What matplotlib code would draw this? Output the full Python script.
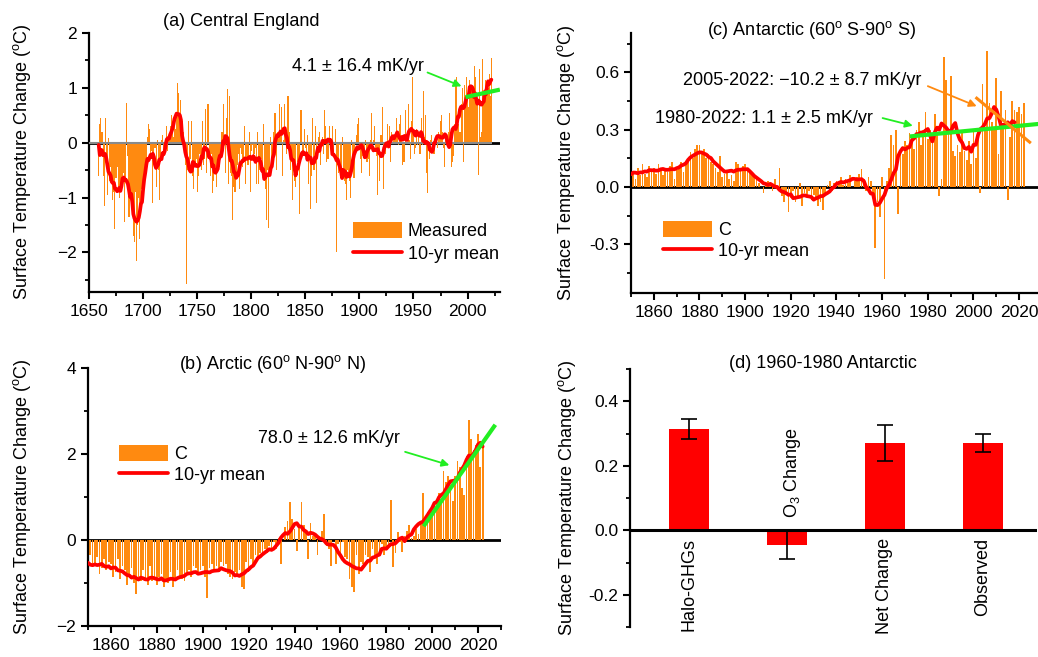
import numpy as np
import pandas as pd
import matplotlib
matplotlib.use('Agg')
import matplotlib.pyplot as plt
from matplotlib.ticker import MultipleLocator

plt.rcParams['font.family'] = ['Liberation Sans', 'DejaVu Sans']
plt.rcParams['mathtext.fontset'] = 'custom'
plt.rcParams['mathtext.rm'] = 'Liberation Sans'
plt.rcParams['mathtext.it'] = 'Liberation Sans:italic'
plt.rcParams['font.size'] = 13

# ---------------- data ----------------
# (a) Central England, annual anomaly, 1659-2022
cet_start = 1659
cet = [
    -0.6, 0.35, 0.45, 0.2, -0.6, -1.15, 0.45, -0.2, -0.95, 0.08, -0.7,
    -0.45, -0.7, -1.05, -0.9, -1.58, -0.65, -0.45, -0.9, -1.0, -0.75,
    -0.85, -0.6, -0.55, -1.45, -0.7, 0.72, -0.25, -1.35, -0.95, -1.1,
    -1.3, -1.7, -1.8, -0.9, -2.15, -1.5, -1.0, -1.75, -1.2, -0.85,
    -0.8, -0.6, -0.4, -0.55, 0.1, 0.35, 0.25, -0.3, -0.15, -1.1,
    -0.3, -0.1, -0.8, 0.05, -0.5, -1.05, -0.35, 0.05, 0.15, -0.25,
    -0.2, -0.1, 0.3, -0.15, 0.05, 0.3, 0.5, 0.2, 0.1, 0.45,
    0.25, 0.5, 1.08, 0.9, 0.55, 0.78, 0.4, 0.2, -0.1, -0.4,
    -2.57, -0.5, 0.4, -0.45, -0.3, 0.4, -0.6, -0.85, -0.4, -0.3,
    -0.9, -0.6, -0.2, -0.3, -0.5, 0.4, -0.4, -0.3, 0.62, -0.55,
    0.7, -0.3, -0.6, -0.2, -0.92, -0.7, -0.4, -0.55, -0.8, -0.35,
    -0.5, -0.45, -0.3, 0.2, 0.7, 0.1, -0.55, 0.45, 0.98, -0.75,
    0.85, -0.55, -0.6, -1.4, -0.8, -0.9, -0.6, -0.4, -0.2, -0.85,
    -0.1, -0.2, -0.45, -0.3, 0.3, -0.75, -0.3, -0.4, 0.2, -0.9,
    -0.15, -0.05, -0.3, -0.2, -0.1, -0.75, 0.2, -0.75, -0.5, -0.3,
    -0.4, 0.35, -0.7, -0.85, -1.4, -0.5, -1.55, -0.5, 0.1, -0.4,
    -0.3, 0.2, 0.55, -0.5, 0.2, 0.1, 0.7, 0.2, 0.65, -0.6,
    0.05, 0.7, 0.1, -0.2, 0.85, 0.2, -0.5, -0.35, -1.05, -0.5,
    -0.7, -0.8, 0.0, -0.35, -0.4, -1.3, 0.6, -0.2, -0.15, 0.25,
    -0.1, -0.2, 0.15, -0.75, -0.3, -1.2, -0.6, 0.45, -0.5, 0.3,
    -1.1, -0.05, 0.1, 0.2, -0.4, 0.05, 0.1, -0.2, 0.6, 0.3,
    -0.35, -0.3, 0.3, -0.05, -0.1, 0.3, -0.15, 0.0, 0.25, -1.99,
    -0.4, -0.55, -0.05, -0.55, 0.1, -0.5, -0.7, -0.75, -1.05, -0.5,
    -0.6, -0.7, -1.0, 0.05, -0.25, -0.65, 0.0, 0.15, 0.35, 0.45,
    -0.05, -0.3, -0.55, -0.25, -0.1, -0.2, 0.05, -0.35, -0.3, -0.6,
    0.05, 0.55, -0.1, 0.05, 0.3, -0.15, -0.25, -0.95, -0.15, -0.7,
    0.15, 0.65, -0.85, 0.0, -0.2, -0.1, 0.35, -0.05, 0.3, -0.35,
    0.2, 0.0, 0.05, 0.15, 0.45, 0.1, -0.05, 0.35, 0.5, 0.15,
    -0.4, -0.35, -0.35, 0.6, 0.0, 0.7, 0.05, -0.3, 0.4, 1.2,
    0.2, -0.2, -0.1, 0.25, -0.05, 0.1, -0.2, 0.45, -0.05, 0.95,
    0.1, 0.5, -0.55, -0.92, -0.05, -0.3, 0.05, 0.15, -0.05, -0.2,
    0.05, 0.15, -0.1, 0.2, 0.1, 0.4, 0.5, 0.2, -0.1, -0.45,
    0.05, 0.1, 0.2, 0.55, -0.1, -0.45, -0.35, -0.25, 0.35, 1.15,
    1.2, 0.4, 0.35, 0.2, 0.7, 1.0, -0.35, 1.05, 0.85, 1.2,
    0.9, 0.65, 1.15, 1.05, 0.95, 0.95, 1.4, 1.2, 0.75, 0.8,
    -0.59, 1.35, 0.1, 0.2, 1.53, 0.75, 0.9, 1.15, 1.1, 1.0,
    1.25, 0.85, 1.55,
]

# (b) Arctic 60N-90N, 1850-2022
arc_start = 1850
arctic = [
    -0.75, -0.35, -0.55, -0.6, -0.4, -0.8, -0.65, -0.45, -0.7, -0.5,
    -0.55, -0.85, -0.75, -0.45, -0.9, -0.6, -0.7, -1.05, -0.8, -0.65,
    -1.0, -1.25, -0.85, -0.95, -0.7, -0.9, -1.05, -0.6, -0.95, -0.9,
    -1.05, -0.85, -0.8, -1.1, -0.9, -1.0, -0.75, -1.1, -0.95, -0.7,
    -0.85, -0.9, -0.95, -0.75, -0.7, -0.85, -0.6, -0.65, -0.8, -0.7,
    -0.6, -0.85, -1.35, -0.65, -0.55, -0.7, -0.6, -0.75, -0.5, -0.6,
    -0.55, -0.8, -0.85, -0.9, -0.75, -0.85, -0.7, -1.1, -1.15, -0.5,
    -0.75, -0.45, -0.6, -0.35, -0.4, -0.3, -0.35, -0.2, -0.3, -0.15,
    -0.25, -0.05, -0.2, 0.05, -0.55, 0.0, 0.3, 0.45, 0.88, 0.5,
    0.25, -0.25, 0.35, 0.88, 0.35, 0.2, -0.45, 0.4, 0.1, 0.15,
    -0.35, 0.05, 0.2, 0.6, -0.15, -0.2, -0.6, 0.0, -0.55, -0.1,
    -0.3, -0.05, -0.4, -0.45, -0.9, -1.1, -1.2, -0.35, -0.8, -0.5,
    -0.55, -0.35, -0.4, -0.75, -0.2, -0.4, -0.55, -0.3, -0.1, -0.35,
    -0.2, -0.15, 0.93, -0.62, -0.3, 0.18, -0.05, -0.29, 0.1, 0.2,
    0.35, 0.05, 0.1, 0.25, 0.15, 0.45, 1.1, 0.4, 0.65, 0.55,
    0.55, 0.8, 0.9, 1.1, 0.95, 1.61, 1.34, 1.5, 1.2, 0.91,
    1.5, 1.84, 1.7, 1.2, 1.05, 1.95, 2.79, 2.35, 2.1, 2.2,
    2.47, 1.69, 2.23,
]

# (c) Antarctic 60S-90S, 1850-2022
ant_start = 1850
antarctic = [
    0.05, 0.08, 0.04, 0.1, 0.06, 0.12, 0.07, 0.05, 0.11, 0.08,
    0.1, 0.07, 0.12, 0.09, 0.06, 0.1, 0.08, 0.11, 0.13, 0.04,
    0.09, 0.1, 0.13, 0.08, 0.12, 0.14, 0.18, 0.15, 0.2, 0.22,
    0.22, 0.18, 0.2, 0.15, 0.17, 0.13, 0.12, 0.1, 0.08, 0.16,
    0.05, 0.07, 0.09, 0.04, 0.06, 0.03, 0.13, 0.12, 0.1, 0.11,
    0.12, 0.1, 0.09, 0.07, 0.05, 0.04, 0.02, 0.0, -0.03, 0.02,
    0.03, 0.01, -0.02, 0.04, -0.01, 0.1, -0.05, -0.08, -0.04, -0.13,
    -0.06, -0.02, -0.08, -0.05, 0.02, -0.1, -0.03, -0.05, -0.02, -0.07,
    -0.04, -0.06, -0.1, -0.08, -0.12, -0.03, 0.01, 0.03, -0.02, 0.02,
    0.03, 0.02, 0.05, 0.01, 0.04, 0.02, 0.06, 0.0, 0.03, 0.05,
    0.07, 0.096, 0.04, -0.02, 0.05, 0.03, -0.05, -0.32, -0.08, -0.16,
    0.05, -0.48, 0.03, 0.1, 0.27, 0.22, 0.3, -0.14, 0.2, 0.17,
    0.24, 0.22, 0.28, 0.27, 0.2, 0.3, 0.34, 0.22, 0.3, 0.39,
    0.25, 0.3, 0.27, 0.38, 0.28, -0.05, 0.04, 0.68, 0.56, 0.28,
    0.58, 0.19, 0.16, 0.22, 0.18, 0.3, 0.19, 0.14, 0.24, 0.12,
    0.29, 0.15, 0.26, -0.03, 0.54, 0.3, 0.71, 0.44, 0.34, 0.3,
    0.57, 0.17, 0.5, 0.31, 0.4, -0.07, 0.26, 0.45, 0.4, 0.39,
    0.42, 0.38, 0.44,
]

# trend lines
trend_a_years, trend_a_vals = [2000, 2028], [0.84, 0.96]
trend_b_years, trend_b_vals = [1996.8, 2027], [0.36, 2.64]
trend_c1_years, trend_c1_vals = [1973, 2030], [0.265, 0.331]
trend_c2_years, trend_c2_vals = [2001.4, 2024.6], [0.464, 0.234]

# (d) 1960-1980 Antarctic
d_labels = ['Halo-GHGs', 'O$_3$ Change', 'Net Change', 'Observed']
d_values = [0.315, -0.045, 0.27, 0.27]
d_errors = [0.031, 0.045, 0.055, 0.028]

ORANGE = '#FF8A10'
RED = '#FF0000'
GREEN = '#22EE22'
YLABEL = 'Surface Temperature Change ($^{\\mathrm{o}}$C)'

W, H = 1038, 657
fig = plt.figure(figsize=(W / 100, H / 100), dpi=100)


def rect(l, t, r, b):
    return [l / W, 1 - b / H, (r - l) / W, (b - t) / H]


def ftext(x, y, s, **kw):
    fig.text(x / W, 1 - y / H, s, **kw)


def style(ax):
    for s in ['top', 'right']:
        ax.spines[s].set_visible(False)
    for s in ['left', 'bottom']:
        ax.spines[s].set_linewidth(1.6)
    ax.tick_params(which='major', direction='out', length=5, width=1.5,
                   labelsize=12.5)
    ax.tick_params(which='minor', direction='out', length=3, width=1.3)


def series_plot(ax, start, vals, width, mean_end=None):
    years = np.arange(start, start + len(vals))
    bars = ax.bar(years, vals, width=width, color=ORANGE, linewidth=0,
                  zorder=2)
    mean10 = pd.Series(vals, index=years).rolling(
        10, center=True, min_periods=5).mean()
    if mean_end is not None:
        mean10 = mean10[mean10.index <= mean_end]
    line, = ax.plot(mean10.index, mean10.values, color=RED, lw=2.7,
                    zorder=4, solid_capstyle='round')
    return years, bars, line


arrow_kw = dict(arrowstyle='-|>', mutation_scale=11, lw=1.3,
                shrinkA=0, shrinkB=0)

# ---------------- (a) Central England ----------------
ax = fig.add_axes(rect(89, 33, 500, 292))
style(ax)
ax.axhline(0, color='black', lw=2, zorder=1)
years, bars, line = series_plot(ax, cet_start, cet, 1.0)
ax.hlines(0, 1650, years[-1] + 0.5, color='#8a8a8a', lw=1.5, zorder=3)
ax.plot(trend_a_years, trend_a_vals, color=GREEN, lw=3, zorder=5)
ax.set_xlim(1650, 2030)
ax.set_ylim(-2.72, 2.0)
ax.xaxis.set_major_locator(MultipleLocator(50))
ax.xaxis.set_minor_locator(MultipleLocator(25))
ax.yaxis.set_major_locator(MultipleLocator(1))
ax.yaxis.set_minor_locator(MultipleLocator(0.5))
ax.text(1837.3, 1.39, '4.1 ± 16.4 mK/yr', ha='left', va='center')
ax.annotate('', xy=(1994.4, 1.03), xytext=(1963, 1.28),
            arrowprops=dict(color=GREEN, **arrow_kw))
ax.legend([bars, line], ['Measured', '10-yr mean'], loc='upper left',
          bbox_to_anchor=(0.642, 0.27), frameon=False, handlelength=2.7,
          handleheight=0.95, borderaxespad=0, borderpad=0,
          labelspacing=0.3, handletextpad=0.35, fontsize=13)
ftext(241, 21, '(a) Central England', ha='center', va='center')
ftext(22, 162, YLABEL, rotation=90, ha='center', va='center')

# ---------------- (b) Arctic ----------------
ax = fig.add_axes(rect(88, 368, 501, 626))
style(ax)
ax.axhline(0, color='black', lw=2, zorder=1)
years, bars, line = series_plot(ax, arc_start, arctic, 0.75)
ax.plot(trend_b_years, trend_b_vals, color=GREEN, lw=3, zorder=5)
ax.set_xlim(1850, 2030)
ax.set_ylim(-2, 4)
ax.xaxis.set_major_locator(MultipleLocator(20))
ax.xaxis.set_minor_locator(MultipleLocator(10))
ax.yaxis.set_major_locator(MultipleLocator(2))
ax.yaxis.set_minor_locator(MultipleLocator(1))
ax.text(1924.1, 2.35, '78.0 ± 12.6 mK/yr', ha='left', va='center')
ax.annotate('', xy=(2007.5, 1.74), xytext=(1988.2, 2.05),
            arrowprops=dict(color=GREEN, **arrow_kw))
ax.legend([bars, line], ['C', '10-yr mean'], loc='upper left',
          bbox_to_anchor=(0.075, 0.70), frameon=False, handlelength=2.7,
          handleheight=0.95, borderaxespad=0, borderpad=0,
          labelspacing=0.15, handletextpad=0.35, fontsize=13)
ftext(273, 364, '(b) Arctic (60$^{\\mathrm{o}}$ N-90$^{\\mathrm{o}}$ N)',
      ha='center', va='center')
ftext(22, 497, YLABEL, rotation=90, ha='center', va='center')

# ---------------- (c) Antarctic ----------------
ax = fig.add_axes(rect(631, 33, 1042, 293))
style(ax)
ax.axhline(0, color='black', lw=2, zorder=1)
years, bars, line = series_plot(ax, ant_start, antarctic, 0.75,
                                mean_end=2018)
ax.plot(trend_c1_years, trend_c1_vals, color=GREEN, lw=3, zorder=5)
ax.plot(trend_c2_years, trend_c2_vals, color=ORANGE, lw=2.2, zorder=5)
ax.set_xlim(1850, 2030)
ax.set_ylim(-0.555, 0.805)
ax.xaxis.set_major_locator(MultipleLocator(20))
ax.xaxis.set_minor_locator(MultipleLocator(10))
ax.yaxis.set_major_locator(MultipleLocator(0.3))
ax.yaxis.set_minor_locator(MultipleLocator(0.15))
ax.yaxis.set_major_formatter(plt.FuncFormatter(lambda v, p: f'{v:.1f}'))
ax.text(1872.6, 0.559, '2005-2022: \u221210.2 ± 8.7 mK/yr', ha='left',
        va='center')
ax.annotate('', xy=(2001.4, 0.422), xytext=(1980, 0.527),
            arrowprops=dict(color=ORANGE, **arrow_kw))
ax.text(1860.4, 0.36, '1980-2022: 1.1 ± 2.5 mK/yr', ha='left', va='center')
ax.annotate('', xy=(1973.4, 0.32), xytext=(1960.2, 0.36),
            arrowprops=dict(color=GREEN, **arrow_kw))
ax.legend([bars, line], ['C', '10-yr mean'], loc='upper left',
          bbox_to_anchor=(0.078, 0.275), frameon=False, handlelength=2.7,
          handleheight=0.95, borderaxespad=0, borderpad=0,
          labelspacing=0.15, handletextpad=0.35, fontsize=13)
ftext(812, 30, '(c) Antarctic (60$^{\\mathrm{o}}$ S-90$^{\\mathrm{o}}$ S)',
      ha='center', va='center')
ftext(566, 163, YLABEL, rotation=90, ha='center', va='center')

# ---------------- (d) 1960-1980 Antarctic ----------------
ax = fig.add_axes(rect(630, 369, 1037, 627))
style(ax)
ax.spines['bottom'].set_visible(False)
xpos = np.arange(1, len(d_values) + 1)
ax.bar(xpos, d_values, width=0.41, color=RED, yerr=d_errors, capsize=6,
       error_kw=dict(elinewidth=1.2, capthick=1.2, ecolor='black'), zorder=2)
ax.axhline(0, color='black', lw=2.2, zorder=3)
ax.set_xlim(0.4, 4.55)
ax.set_ylim(-0.3, 0.5)
ax.set_xticks([])
ax.yaxis.set_major_locator(MultipleLocator(0.2))
ax.yaxis.set_minor_locator(MultipleLocator(0.1))
ax.yaxis.set_major_formatter(plt.FuncFormatter(lambda v, p: f'{v:.1f}'))
for x, v, lab in zip(xpos, d_values, d_labels):
    if v >= 0:
        ax.text(x, -0.025, lab, rotation=90, ha='center', va='top')
    else:
        ax.text(x + 0.06, 0.037, lab, rotation=90, ha='center', va='bottom')
ftext(823, 364, '(d) 1960-1980 Antarctic', ha='center', va='center')
ftext(567, 498, YLABEL, rotation=90, ha='center', va='center')

fig.savefig('out.png', dpi=100)
